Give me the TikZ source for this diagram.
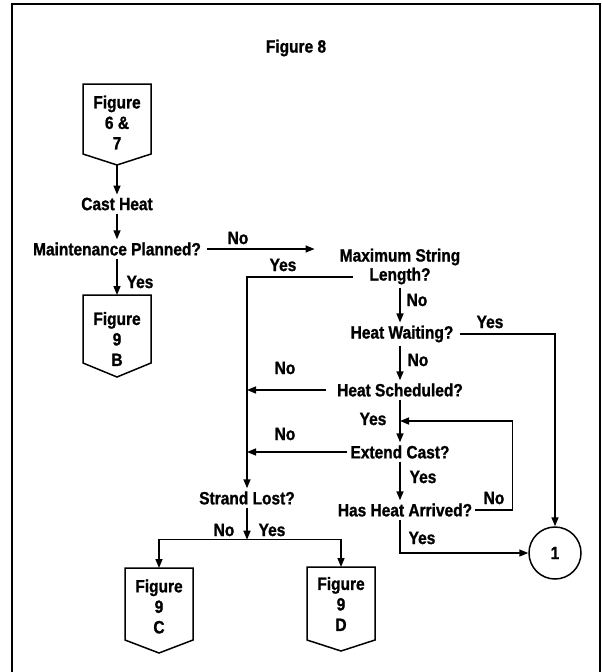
\documentclass[tikz,border=0pt]{standalone}
\usepackage{fontspec}
\setmainfont{Liberation Sans}[FakeStretch=0.87,BoldFeatures={FakeBold=1.2}]
\usetikzlibrary{arrows.meta,calc}
\newcommand\figpent[4]{%
  \coordinate (#1top) at ($(#1)+(0,-#2)$);
  \coordinate (#1tip) at ($(#1)+(0,#4)$);
  \draw[boxline] ($(#1)+(-34,-#2)$) -- ($(#1)+(34,-#2)$) -- ($(#1)+(34,#3)$)
     -- (#1tip) -- ($(#1)+(-34,#3)$) -- cycle;}
\begin{document}
\begin{tikzpicture}[x=1pt,y=-1pt,
  lbl/.style={font=\fontsize{17.8}{19}\selectfont\bfseries, inner sep=3pt, align=center},
  ftxt/.style={font=\fontsize{17.8}{20.5}\selectfont\bfseries, inner sep=0pt, align=center},
  conn/.style={line width=1.5pt},
  arr/.style={conn, -{Triangle[length=9pt,width=7pt]}},
  boxline/.style={line width=1.5pt, line join=miter},
  frame/.style={line width=2.4pt},
  circ/.style={draw, circle, line width=1.5pt, minimum size=52pt, inner sep=0pt,
    font=\fontsize{17.8}{19}\selectfont\bfseries},
]
\useasboundingbox (0,0) rectangle (602,672);
\draw[frame] (12,672) -- (12,4) -- (600,4) -- (600,672);

\node[lbl] (title) at (296,48) {Figure 8};

\node[ftxt] (f67) at (117,122.5) {Figure\\6 \&\\7};
\figpent{f67}{38.5}{31.5}{42.5}
\node[lbl] (cast) at (117,204) {Cast Heat};
\node[lbl] (maint) at (117,249) {Maintenance Planned?};
\node[ftxt] (f9b) at (117,339) {Figure\\9\\B};
\figpent{f9b}{44}{24}{38}

\node[lbl] (maxlen) at (400,266.5) {Maximum String\\Length?};
\node[lbl] (wait) at (402,334) {Heat Waiting?};
\node[lbl] (sched) at (400,390) {Heat Scheduled?};
\node[lbl] (ext) at (400,452) {Extend Cast?};
\node[lbl] (arrv) at (405,510) {Has Heat Arrived?};
\node[lbl] (strand) at (247,498) {Strand Lost?};
\node[circ] (c1) at (555,553) {1};

\node[ftxt] (f9c) at (159,606.5) {Figure\\9\\C};
\figpent{f9c}{38.5}{33.5}{46.5}
\node[ftxt] (f9d) at (341,604) {Figure\\9\\D};
\figpent{f9d}{37}{36}{47}

% branch labels
\node[lbl] (lno1) at (238,238) {No};
\node[lbl] (lyes1) at (140,282) {Yes};
\node[lbl] (lyes2) at (283,265) {Yes};
\node[lbl] (lno2) at (417,300) {No};
\node[lbl] (lyes3) at (490,322) {Yes};
\node[lbl] (lno3) at (418,360) {No};
\node[lbl] (lno4) at (285,368) {No};
\node[lbl] (lyes4) at (373,419) {Yes};
\node[lbl] (lno5) at (285,434) {No};
\node[lbl] (lyes5) at (423,477) {Yes};
\node[lbl] (lno6) at (494,498) {No};
\node[lbl] (lyes6) at (422,538) {Yes};
\node[lbl] (lno7) at (224,530) {No};
\node[lbl] (lyes7) at (272,530) {Yes};

% helper coordinates
\coordinate (lenL) at ($(maxlen.center)+(-47,10.5)$);
\coordinate (loopin) at ($(sched.south)!0.5!(ext.north)$);
\coordinate (jn) at ($(strand.south)+(0,32)$);

% connectors
\draw[arr] (f67tip) -- (cast.north);
\draw[arr] (cast.south) -- (maint.north);
\draw[arr, shorten >=22pt, shorten <=3pt] (maint.east) -- (maint.east -| maxlen.west);
\draw[arr] (maint.south) -- (f9btop);
\draw[arr] (lenL) -| (strand.north);
\draw[arr] (maxlen.south) -- (maxlen.south |- wait.north);
\draw[arr, shorten <=3pt] (wait.east) -| (c1.north);
\draw[arr] (wait.south -| sched.north) -- (sched.north);
\draw[arr, shorten <=8pt] (sched.west) -- (sched.west -| strand.north);
\draw[arr] (sched.south) -- (ext.north);
\draw[arr] (ext.west) -- (ext.west -| strand.north);
\draw[arr] (ext.south) -- (ext.south |- arrv.north);
\draw[arr] (arrv.east) -- ++(37,0) |- (loopin);
\draw[arr] (arrv.south -| ext.south) |- (c1.west);
\draw[arr] (strand.south) -- (jn);
\draw[arr] (jn) -| (f9ctop);
\draw[arr] (jn) -| (f9dtop);
\end{tikzpicture}
\end{document}
